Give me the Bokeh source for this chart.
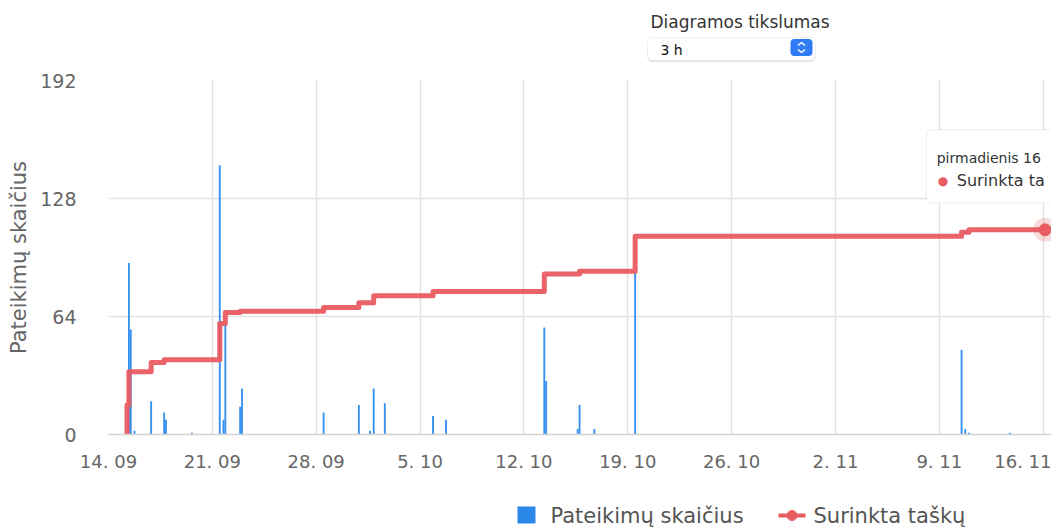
import pandas as pd
from datetime import timedelta
from bokeh.plotting import figure
from bokeh.models import Range1d, FixedTicker, BoxAnnotation, Label
from bokeh.layouts import column
from bokeh.embed import file_html
from bokeh.resources import INLINE
from bokeh.core.properties import value

# ---------------- data ----------------
bar_times = ["2020-09-15 09:00", "2020-09-15 12:00", "2020-09-15 18:00", "2020-09-16 21:00",
             "2020-09-17 18:00", "2020-09-17 21:00", "2020-09-19 15:00", "2020-09-21 12:00",
             "2020-09-21 18:00", "2020-09-21 21:00", "2020-09-22 21:00", "2020-09-23 00:00",
             "2020-09-28 12:00", "2020-09-30 21:00", "2020-10-01 15:00", "2020-10-01 21:00",
             "2020-10-02 15:00", "2020-10-05 21:00", "2020-10-06 18:00", "2020-10-13 09:00",
             "2020-10-13 12:00", "2020-10-15 15:00", "2020-10-15 18:00", "2020-10-16 18:00",
             "2020-10-19 12:00", "2020-11-10 12:00", "2020-11-10 18:00", "2020-11-11 00:00",
             "2020-11-13 18:00"]
bar_counts = [93, 57, 2, 18, 12, 8, 1, 146, 8, 60, 15, 25, 12, 16, 2, 25, 17, 10, 8, 58,
              29, 3, 16, 3, 88, 46, 3, 1, 1]

pts_times = ["2020-09-15 03:00", "2020-09-15 06:00", "2020-09-15 09:00", "2020-09-16 21:00",
             "2020-09-17 18:00", "2020-09-21 12:00", "2020-09-21 21:00", "2020-09-22 21:00",
             "2020-09-28 12:00", "2020-09-30 21:00", "2020-10-01 21:00", "2020-10-05 21:00",
             "2020-10-13 09:00", "2020-10-15 18:00", "2020-10-19 12:00", "2020-11-10 12:00",
             "2020-11-11 00:00", "2020-11-16 03:00"]
pts_values = [0, 16, 34, 39, 40.6, 60.2, 66.2, 66.9, 68.9, 71.4, 75.2, 77.6, 87, 88.6,
              107.5, 109.7, 111, 111]

tick_dates = ["2020-09-14", "2020-09-21", "2020-09-28", "2020-10-05", "2020-10-12",
              "2020-10-19", "2020-10-26", "2020-11-02", "2020-11-09", "2020-11-16"]
tick_labels = ["14. 09", "21. 09", "28. 09", "5. 10", "12. 10", "19. 10", "26. 10",
               "2. 11", "9. 11", "16. 11"]
y_ticks = [0, 64, 128, 192]

bar_name = "Pateikimų skaičius"
line_name = "Surinkta taškų"
y_title = "Pateikimų skaičius"
select_label = "Diagramos tikslumas"
select_value = "3 h"
tooltip_date = "pirmadienis 16"
tooltip_text = "Surinkta ta"

FONT = "DejaVu Sans"
BLUE = "#3591f0"
RED = "#e85b60"
W = 1051
FRAME_L = 108

bx = pd.to_datetime(bar_times)
px = pd.to_datetime(pts_times)
t0 = pd.Timestamp(tick_dates[0])
t_last = px[-1]


def deco_fig(height, top, bottom):
    f = figure(width=W, height=height, x_range=Range1d(FRAME_L, W), y_range=Range1d(bottom, top),
               toolbar_location=None, output_backend="svg", min_border=0,
               min_border_left=FRAME_L, min_border_right=0,
               x_axis_location=None, y_axis_location=None, outline_line_color=None)
    f.grid.visible = False
    return f


# ---------------- header (select box) ----------------
hdr = deco_fig(68, 0, 68)
hdr.add_layout(BoxAnnotation(left=647, right=815, top=38, bottom=61.5, fill_color="#000000",
                             fill_alpha=0.10, line_color=None, border_radius=5, level="underlay"))
hdr.add_layout(BoxAnnotation(left=647, right=815, top=37, bottom=60, fill_color="white",
                             fill_alpha=1, line_color="#d4d4d4", line_width=1, border_radius=5,
                             level="underlay"))
hdr.add_layout(BoxAnnotation(left=790, right=812, top=38.5, bottom=55.5, fill_color="#2f7cf6",
                             fill_alpha=1, line_color=None, border_radius=4, level="underlay"))
hdr.text(x=[650], y=[21], text=[select_label], text_font=value(FONT), text_font_size="17px",
         text_color="#333333", text_baseline="middle")
hdr.text(x=[660], y=[49], text=[select_value], text_font=value(FONT), text_font_size="14px",
         text_color="#111111", text_baseline="middle")
hdr.multi_line(xs=[[797.5, 801, 804.5], [797.5, 801, 804.5]], ys=[[45, 42, 45], [49, 52, 49]],
               line_color="white", line_width=1.5)

# ---------------- main chart ----------------
p = figure(width=W, height=422, x_axis_type="datetime",
           x_range=Range1d(t0, pd.Timestamp("2020-11-16 13:30")),
           y_range=Range1d(0, 192),
           toolbar_location=None, output_backend="svg",
           min_border_left=FRAME_L, min_border_right=0, min_border_top=12, min_border_bottom=56,
           outline_line_color=None, background_fill_color="white", border_fill_color="white")

bars = p.vbar(x=bx, top=bar_counts, width=timedelta(hours=3), color=BLUE, line_color=None)
step_r = p.step(x=px, y=pts_values, mode="after", line_color=RED, line_width=5,
                line_join="round", line_alpha=0.95)
p.scatter(x=[t_last], y=[pts_values[-1]], size=24, fill_color=RED, fill_alpha=0.22, line_color=None)
p.scatter(x=[t_last], y=[pts_values[-1]], size=12, fill_color=RED, line_color=RED)

# axes
tick_ms = [pd.Timestamp(d).value // 10**6 for d in tick_dates]
p.xaxis.ticker = FixedTicker(ticks=tick_ms)
p.xaxis.major_label_overrides = {int(t): lab for t, lab in zip(tick_ms, tick_labels)}
p.yaxis.ticker = FixedTicker(ticks=y_ticks)
for ax in (p.xaxis[0], p.yaxis[0]):
    ax.major_tick_line_color = None
    ax.minor_tick_line_color = None
    ax.major_label_text_font = FONT
    ax.major_label_text_color = "#666666"
p.xaxis.major_label_text_font_size = "18px"
p.yaxis.major_label_text_font_size = "19px"
p.xaxis.axis_line_color = "#d2d2d2"
p.xaxis.axis_line_width = 1.5
p.xaxis.major_label_standoff = 10
p.yaxis.axis_line_color = None
p.yaxis.major_label_standoff = 26
p.yaxis.axis_label = y_title
p.yaxis.axis_label_text_font = FONT
p.yaxis.axis_label_text_font_size = "21px"
p.yaxis.axis_label_text_font_style = "normal"
p.yaxis.axis_label_text_color = "#666666"
p.yaxis.axis_label_standoff = 6

p.xgrid.grid_line_color = "#e2e2e2"
p.xgrid.grid_line_width = 1.5
p.ygrid.grid_line_color = "#e2e2e2"
p.ygrid.grid_line_width = 1.5

# tooltip
day_ms = 24 * 3600 * 1000
last_ms = t_last.value // 10**6
p.add_layout(BoxAnnotation(left=last_ms - 8.0 * day_ms, right=last_ms + 3 * day_ms,
                           top=165.3, bottom=125.6, fill_color="white", fill_alpha=0.95,
                           line_color="#c4c4c4", line_width=1, border_radius=5))
p.add_layout(Label(x=last_ms - 7.3 * day_ms, y=150, text=tooltip_date, text_font=FONT,
                   text_font_size="14px", text_color="#333333", text_baseline="middle"))
p.add_layout(Label(x=last_ms - 6.88 * day_ms, y=137.6, text="●", text_font=FONT,
                   text_font_size="12px", text_color=RED, text_baseline="middle", text_align="center"))
p.add_layout(Label(x=last_ms - 5.95 * day_ms, y=137.6, text=tooltip_text, text_font=FONT,
                   text_font_size="16px", text_color="#333333", text_baseline="middle"))

# ---------------- legend ----------------
leg = deco_fig(41, 490, 531)
leg.quad(left=[517], right=[535], top=[506], bottom=[523], fill_color="#2b88e8", line_color=None)
leg.text(x=[550], y=[515], text=[bar_name], text_font=value(FONT), text_font_size="21px",
         text_color="#555555", text_baseline="middle")
leg.line(x=[778, 805], y=[515, 515], line_color=RED, line_width=4)
leg.scatter(x=[791.5], y=[515], size=10, fill_color=RED, line_color=RED)
leg.text(x=[813], y=[515], text=[line_name], text_font=value(FONT), text_font_size="21px",
         text_color="#555555", text_baseline="middle")

layout = column(hdr, p, leg)
open("out.html", "w").write(file_html(layout, INLINE))
